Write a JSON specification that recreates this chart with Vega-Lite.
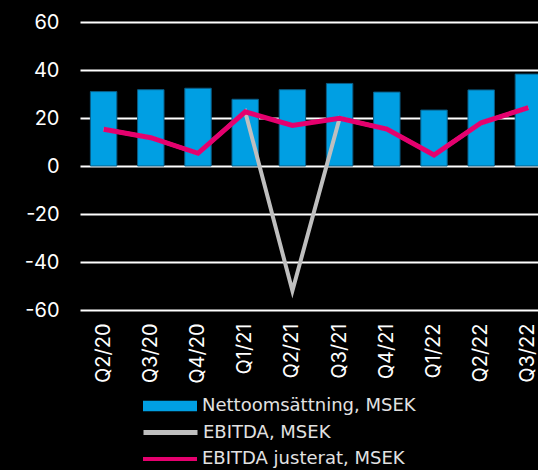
{
  "$schema": "https://vega.github.io/schema/vega-lite/v6.json",
  "width": 458,
  "height": 288,
  "autosize": {"type": "none"},
  "padding": {"left": 80, "top": 22, "right": 0, "bottom": 160},
  "background": "#000000",
  "config": {"view": {"stroke": null}, "font": "Inter"},
  "data": {
    "values": [
      {"q": "Q2/20", "netto": 31.0, "ebitda": 15.3, "ebitda_j": 15.3},
      {"q": "Q3/20", "netto": 31.8, "ebitda": 11.8, "ebitda_j": 11.8},
      {"q": "Q4/20", "netto": 32.4, "ebitda": 5.3, "ebitda_j": 5.3},
      {"q": "Q1/21", "netto": 27.8, "ebitda": 22.6, "ebitda_j": 22.6},
      {"q": "Q2/21", "netto": 31.8, "ebitda": -52.0, "ebitda_j": 16.9},
      {"q": "Q3/21", "netto": 34.4, "ebitda": 19.9, "ebitda_j": 19.9},
      {"q": "Q4/21", "netto": 30.8, "ebitda": 15.4, "ebitda_j": 15.4},
      {"q": "Q1/22", "netto": 23.3, "ebitda": 4.6, "ebitda_j": 4.6},
      {"q": "Q2/22", "netto": 31.7, "ebitda": 18.0, "ebitda_j": 18.0},
      {"q": "Q3/22", "netto": 38.3, "ebitda": 24.3, "ebitda_j": 24.3}
    ]
  },
  "encoding": {
    "x": {
      "field": "q",
      "type": "nominal",
      "sort": null,
      "scale": {"range": [0, 472], "paddingInner": 0.44, "paddingOuter": 0.22},
      "axis": {
        "title": null,
        "labelAngle": -90,
        "domain": false,
        "ticks": false,
        "labelFontSize": 20,
        "labelColor": "#ffffff",
        "labelPadding": 13
      }
    }
  },
  "layer": [
    {
      "mark": {"type": "bar", "stroke": "#0a5c85", "strokeWidth": 1},
      "encoding": {
        "y": {
          "field": "netto",
          "type": "quantitative",
          "title": null,
          "scale": {"domain": [-60, 60]},
          "axis": {
            "values": [-60, -40, -20, 0, 20, 40, 60],
            "labelExpr": "replace(datum.label, '−', '-')",
            "grid": true,
            "gridColor": "#ffffff",
            "gridWidth": 2,
            "domain": false,
            "ticks": false,
            "labelFontSize": 20,
            "labelColor": "#ffffff",
            "labelPadding": 21
          }
        },
        "fill": {
          "datum": "Nettoomsättning, MSEK",
          "scale": {"domain": ["Nettoomsättning, MSEK"], "range": ["#009FE3"]},
          "legend": {
            "orient": "none",
            "legendX": 63,
            "legendY": 357,
            "direction": "vertical",
            "title": null,
            "padding": 0,
            "labelFont": "DejaVu Sans",
            "labelFontSize": 18,
            "labelLimit": 400,
            "labelColor": "#e2e2e2",
            "labelOffset": 5,
            "symbolType": "M-1,-0.19H1V0.19H-1Z",
            "symbolSize": 2916,
            "symbolStrokeWidth": 0,
            "symbolOpacity": 1
          }
        }
      }
    },
    {
      "mark": {"type": "line", "strokeWidth": 4},
      "encoding": {
        "y": {"field": "ebitda", "type": "quantitative", "title": null},
        "stroke": {
          "datum": "EBITDA, MSEK",
          "scale": {"domain": ["EBITDA, MSEK"], "range": ["#BFBFBF"]},
          "legend": {
            "orient": "none",
            "legendX": 61,
            "legendY": 381,
            "direction": "vertical",
            "title": null,
            "padding": 0,
            "labelFont": "DejaVu Sans",
            "labelFontSize": 18,
            "labelLimit": 400,
            "labelColor": "#e2e2e2",
            "labelOffset": 3,
            "symbolType": "stroke",
            "symbolSize": 2916,
            "symbolStrokeWidth": 5,
            "symbolOpacity": 1
          }
        }
      }
    },
    {
      "mark": {"type": "line", "strokeWidth": 5},
      "encoding": {
        "y": {"field": "ebitda_j", "type": "quantitative", "title": null},
        "color": {
          "datum": "EBITDA justerat, MSEK",
          "scale": {"domain": ["EBITDA justerat, MSEK"], "range": ["#E5006E"]},
          "legend": {
            "orient": "none",
            "legendX": 61,
            "legendY": 408,
            "direction": "vertical",
            "title": null,
            "padding": 0,
            "labelFont": "DejaVu Sans",
            "labelFontSize": 18,
            "labelLimit": 400,
            "labelColor": "#e2e2e2",
            "labelOffset": 3,
            "symbolType": "stroke",
            "symbolSize": 2916,
            "symbolStrokeWidth": 4,
            "symbolOpacity": 1
          }
        }
      }
    }
  ]
}
